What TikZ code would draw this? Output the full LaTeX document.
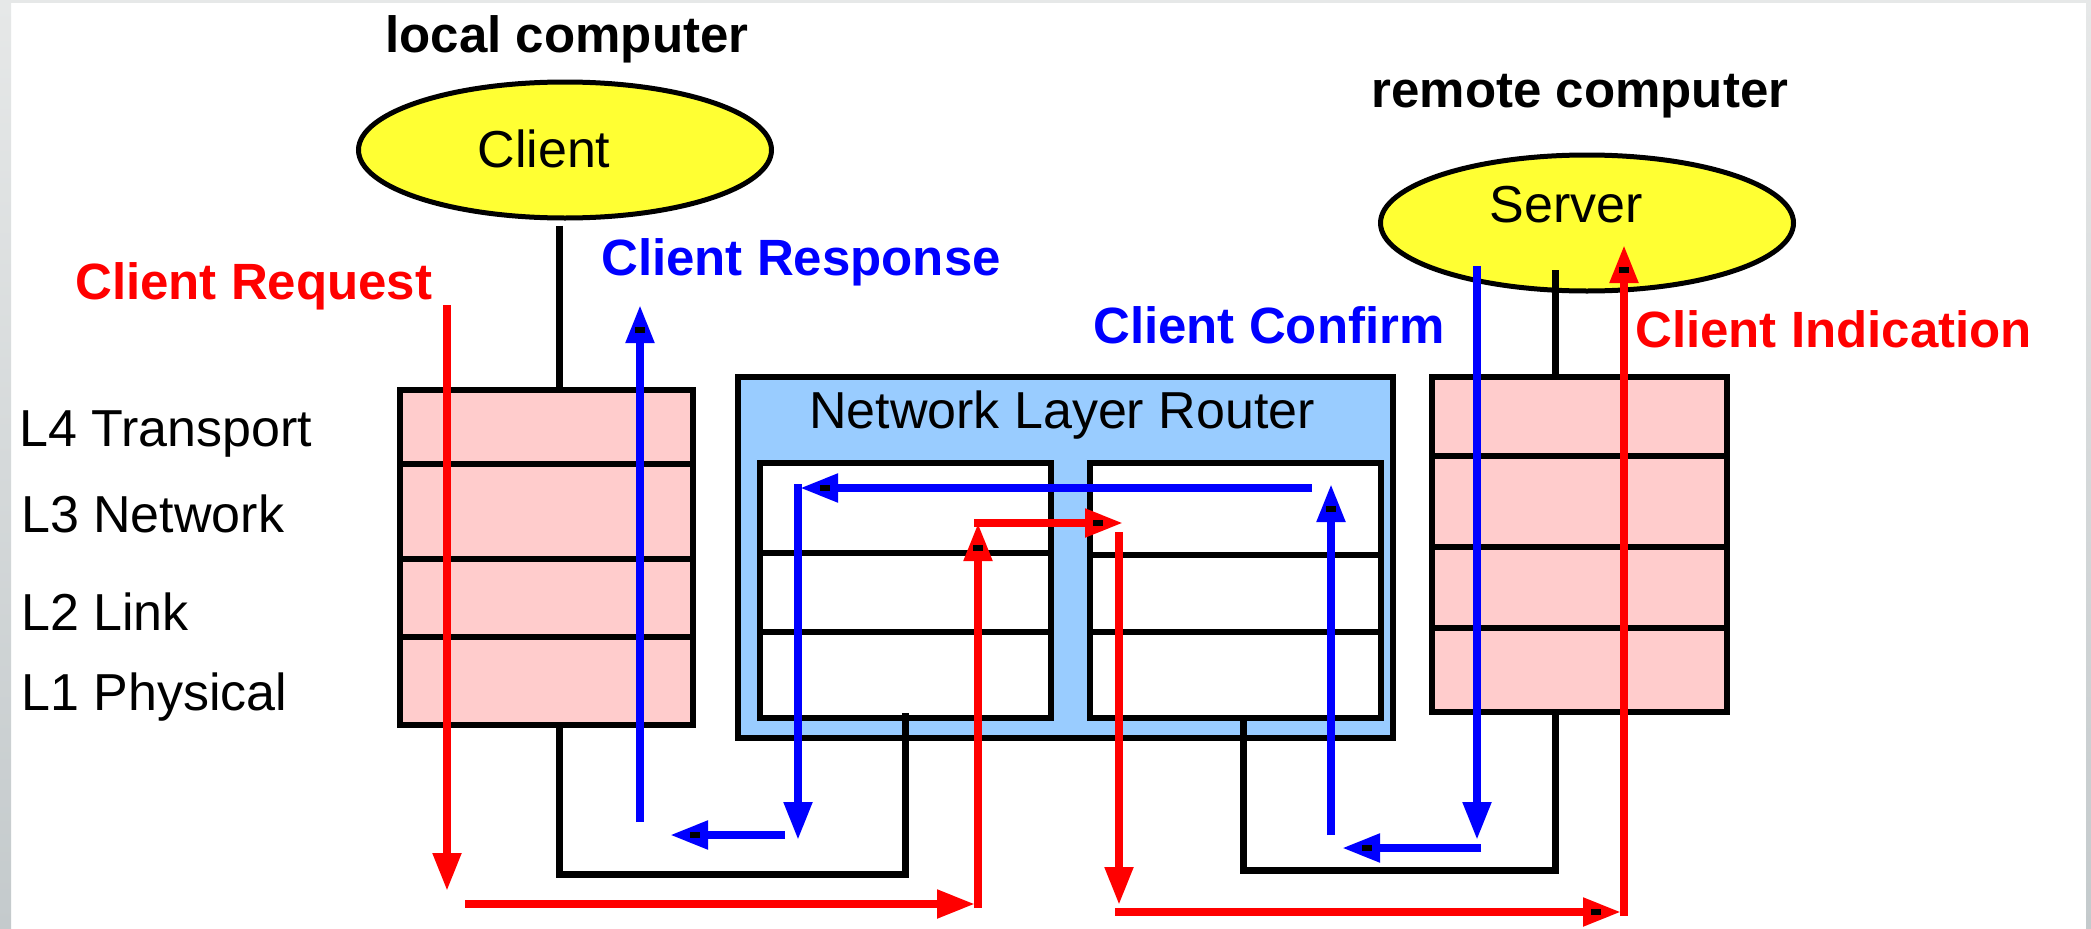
\documentclass[tikz,border=0pt]{standalone}
\usepackage{fontspec}
\setmainfont{Liberation Sans}
\usetikzlibrary{arrows.meta,decorations.markings,shapes.geometric}
\definecolor{pinkbox}{HTML}{FFCCCC}
\definecolor{routerblue}{HTML}{99CCFF}
\definecolor{ellyellow}{HTML}{FFFF33}
\definecolor{lred}{HTML}{FF0000}
\definecolor{lblue}{HTML}{0000FF}
\definecolor{edgetop}{HTML}{E6E8E8}
\definecolor{edgebot}{HTML}{C4CACC}
\tikzset{
  reg/.style={font=\fontsize{52}{60}\selectfont, inner sep=0pt},
  bld/.style={font=\fontsize{51}{60}\selectfont\bfseries, inner sep=0pt},
  ell/.style={ellipse, draw=black, line width=5pt, fill=ellyellow, inner sep=0pt},
  stack/.style={draw=black, line width=6pt, fill=pinkbox, inner sep=0pt, anchor=north west},
  inbox/.style={draw=black, line width=5.5pt, fill=white, inner sep=0pt, anchor=north west},
  blk/.style={draw=black, line width=7pt},
  rline/.style={draw=lred, line width=8pt},
  bline/.style={draw=lblue, line width=8pt},
  tip/.style={-{Triangle[length=38pt,width=27pt]}},
  sq/.style={postaction={decorate,decoration={markings,
     mark=at position -25pt with {\pgftransformresetnontranslations
       \fill[black] (-5pt,-3pt) rectangle (5pt,3pt);}}}}
}
\begin{document}
\begin{tikzpicture}[x=1pt,y=-1pt]
\useasboundingbox (0,0) rectangle (2091,929);
\fill[white] (0,0) rectangle (2091,929);
\shade[top color=edgetop, bottom color=edgebot] (0,0) rectangle (11,929);
\shade[top color=edgetop, bottom color=edgebot] (2086,0) rectangle (2091,929);
\fill[edgetop] (0,0) rectangle (2091,3);

% titles
\node[bld, anchor=base] (loc) at (567,52) {local computer};
\node[bld, anchor=base] (rem) at (1580,107) {remote computer};

% ellipses
\node[ell, minimum width=413pt, minimum height=136pt] (client) at (565,150) {};
\node[reg, anchor=base] (clienttxt) at (544,167) {Client};
\node[ell, minimum width=413pt, minimum height=136pt] (server) at (1587,223) {};
\node[reg, anchor=base] (servertxt) at (1566,222) {Server};

% router
\node[draw=black, line width=6pt, fill=routerblue, inner sep=0pt, anchor=north west,
      minimum width=655pt, minimum height=361pt] (router) at (735,374) {};
\node[reg, anchor=base] (routertxt) at (1062,428) {Network Layer Router};
\node[inbox, minimum width=291pt, minimum height=255pt] (rinl) at (757,460) {};
\node[inbox, minimum width=291pt, minimum height=255pt] (rinr) at (1087,460) {};
\draw[line width=5.5pt] (757,553) -- (1048,553) (757,632) -- (1048,632);
\draw[line width=5.5pt] (1087,555) -- (1378,555) (1087,632) -- (1378,632);

% stacks
\node[stack, minimum width=293pt, minimum height=335pt] (lstack) at (397,387) {};
\draw[line width=6pt] (397,464) -- (690,464) (397,559) -- (690,559) (397,637) -- (690,637);
\node[stack, minimum width=295pt, minimum height=335pt] (rstack) at (1429,374) {};
\draw[line width=6pt] (1429,456) -- (1724,456) (1429,547) -- (1724,547) (1429,628) -- (1724,628);

% layer labels
\node[reg, anchor=base west] (l4) at (19,446) {L4 Transport};
\node[reg, anchor=base west] (l3) at (21,532) {L3 Network};
\node[reg, anchor=base west] (l2) at (21,630) {L2 Link};
\node[reg, anchor=base west] (l1) at (21,710) {L1 Physical};

% flow labels
\node[bld, anchor=base west, text=lred] (creq) at (75,299) {Client Request};
\node[bld, anchor=base west, text=lblue] (cresp) at (601,275) {Client Response};
\node[bld, anchor=base west, text=lblue] (cconf) at (1093,343) {Client Confirm};
\node[bld, anchor=base west, text=lred] (cind) at (1635,347) {Client Indication};

% black links
\coordinate (cx) at (559,0);
\coordinate (sx) at (1555,0);
\coordinate (lbot) at (559,722);
\coordinate (lrt) at (905,713);
\coordinate (rbot) at (1243,718);
\coordinate (rrt) at (1555,709);
\draw[blk] ([yshift=-5pt]client.south -| cx) -- (lstack.north -| cx);
\draw[blk] (sx |- 0,270) -- (rstack.north -| sx);
\draw[blk] (lbot) -- (559,874) -- (905,874) -- (lrt);
\draw[blk] (rbot) -- (1243,870) -- (1555,870) -- (rrt);

% red path
\coordinate (r1) at (447,305);  \coordinate (r2) at (447,891);
\coordinate (r3) at (465,904);  \coordinate (r4) at (975,904);
\coordinate (r5) at (978,908);  \coordinate (r6) at (978,523);
\coordinate (r7) at (974,523);  \coordinate (r8) at (1123,523);
\coordinate (r9) at (1119,532); \coordinate (r10) at (1119,905);
\coordinate (r11) at (1115,912); \coordinate (r12) at (1621,912);
\coordinate (r13) at (1624,916); \coordinate (r14) at (1624,245);
\draw[rline, tip] (r1) -- (r2);
\draw[rline, tip] (r3) -- (r4);
\draw[rline, tip, sq] (r5) -- (r6);
\draw[rline, tip, sq] (r7) -- (r8);
\draw[rline, tip] (r9) -- (r10);
\draw[rline, tip, sq] (r11) -- (r12);
\draw[rline, tip, sq] (r13) -- (r14);

% blue path
\coordinate (b1) at (1477,266);  \coordinate (b2) at (1477,840);
\coordinate (b3) at (1481,848);  \coordinate (b4) at (1342,848);
\coordinate (b5) at (1331,835);  \coordinate (b6) at (1331,484);
\coordinate (b7) at (1312,488);  \coordinate (b8) at (800,488);
\coordinate (b9) at (798,484);   \coordinate (b10) at (798,840);
\coordinate (b11) at (785,835);  \coordinate (b12) at (670,835);
\coordinate (b13) at (640,822);  \coordinate (b14) at (640,305);
\draw[bline, tip] (b1) -- (b2);
\draw[bline, tip, sq] (b3) -- (b4);
\draw[bline, tip, sq] (b5) -- (b6);
\draw[bline, tip, sq] (b7) -- (b8);
\draw[bline, tip] (b9) -- (b10);
\draw[bline, tip, sq] (b11) -- (b12);
\draw[bline, tip, sq] (b13) -- (b14);
\end{tikzpicture}
\end{document}
